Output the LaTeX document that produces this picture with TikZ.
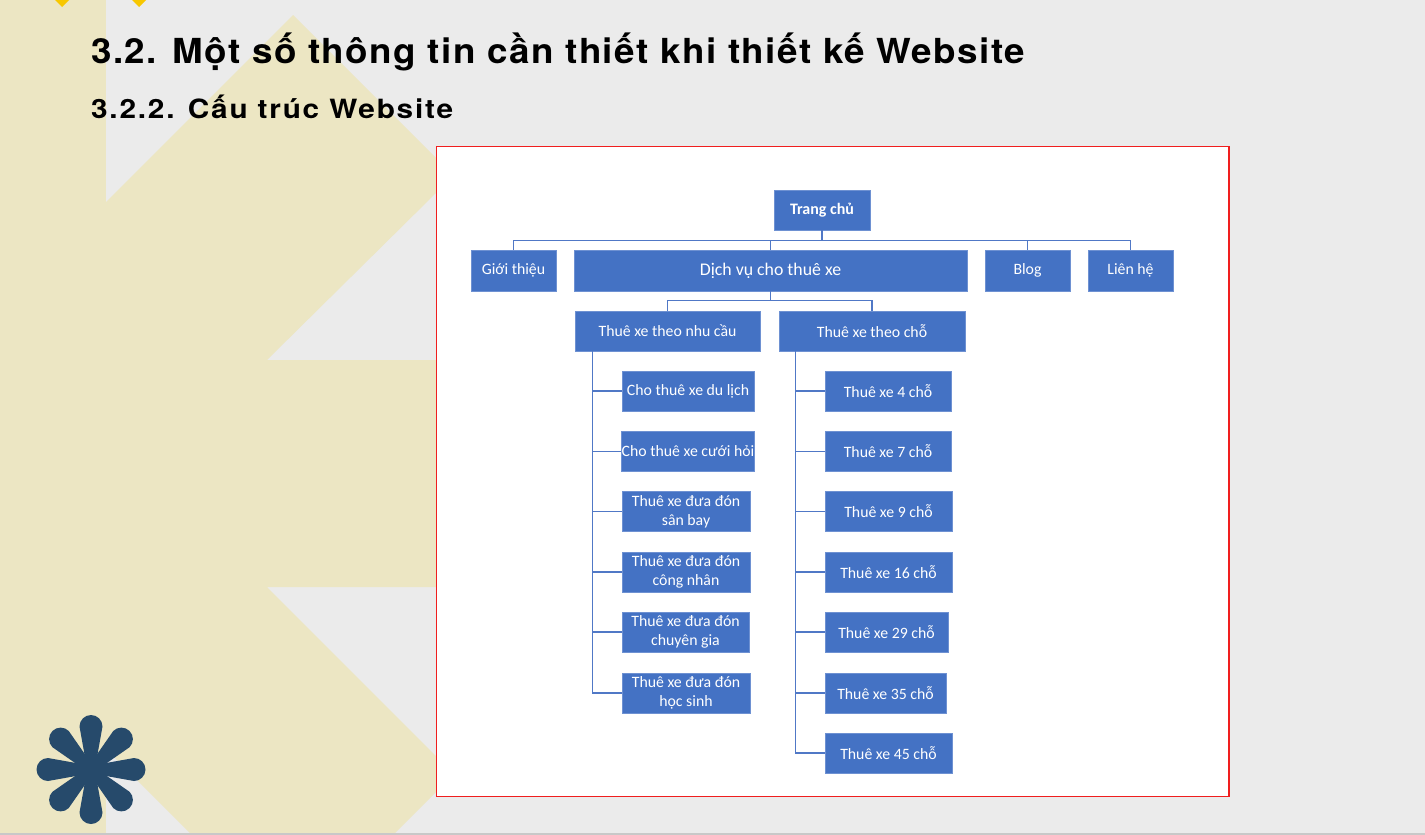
\documentclass[tikz,border=0pt]{standalone}
\usepackage{fontspec}
\setmainfont{Carlito}
\newfontfamily\titlefont[LetterSpace=4,Ligatures=NoCommon]{TeX Gyre Heros}
\newfontfamily\subfont[LetterSpace=6,Ligatures=NoCommon]{TeX Gyre Heros}
\definecolor{bggrey}{RGB}{235,235,235}
\definecolor{beige}{RGB}{236,230,195}
\definecolor{astblue}{RGB}{38,74,107}
\definecolor{gold}{RGB}{247,199,0}
\definecolor{framered}{RGB}{240,30,30}
\definecolor{boxblue}{RGB}{68,114,196}
\definecolor{boxedge}{RGB}{110,145,210}
\definecolor{linkblue}{RGB}{80,120,198}
\newlength\titlew
\newlength\subw
\newcommand\titletext{3.2. Một số thông tin cần thiết khi thiết kế Website}
\newcommand\subtext{3.2.2. Cấu trúc Website}
\newcommand\titlefnt{\titlefont\bfseries\fontsize{34.5}{40}\selectfont}
\newcommand\subfnt{\subfont\bfseries\fontsize{26.5}{30}\selectfont}
\tikzset{
  blk/.style={draw=boxedge, fill=boxblue, line width=0.8pt, text=white, align=center,
    inner sep=0pt, minimum height=40pt, font=\fontsize{15.8}{19}\selectfont},
  two/.style={font=\fontsize{15.8}{19}\selectfont},
  conn/.style={draw=linkblue, line width=1.3pt},
  petal/.style={fill=astblue}
}
\begin{document}
\settowidth\titlew{\titlefnt\titletext}
\settowidth\subw{\subfnt\subtext}
\pgfmathsetmacro\titlesx{934/\titlew}
\pgfmathsetmacro\subsx{362/\subw}
\begin{tikzpicture}[x=1pt,y=-1pt]
\useasboundingbox (0,0) rectangle (1425,835);
% background
\fill[bggrey] (0,0) rectangle (1425,835);
\fill[beige] (0,0) rectangle (106,835);
\fill[beige] (106,202) -- (293,15) -- (460,182) -- (460,170) -- (436,193) -- (267,360)
  -- (460,360) -- (460,587) -- (267,587) -- (460,780) -- (460,768) -- (393,835)
  -- (192,835) -- (106,749) -- cycle;
\draw[line width=1.5pt, draw={rgb,255:red,200;green,200;blue,200}] (0,834.2) -- (1425,834.2);
% diamonds
\fill[gold] (62,-11) -- (71,-2) -- (62,7) -- (53,-2) -- cycle;
\fill[gold] (139,-11) -- (148,-2) -- (139,7) -- (130,-2) -- cycle;
% asterisk
\begin{scope}[shift={(91,769.5)}]
\foreach \a in {0,45,...,315}{
  \fill[petal, rotate=\a] (0,-3.8) -- (43,-11.5) arc[start angle=-90, end angle=90, radius=11.5] -- (0,3.8) -- cycle;
}
\fill[astblue] (0,0) circle (9);
\end{scope}
% titles
\node[anchor=base west, inner sep=0pt] (title) at (91,63) {\scalebox{\titlesx}[1]{\titlefnt\titletext}};
\node[anchor=base west, inner sep=0pt] (subtitle) at (91,118) {\scalebox{\subsx}[1]{\subfnt\subtext}};
% frame
\draw[framered, fill=white, line width=1.2pt] (436.5,146.5) rectangle (1229,796.5);
% level 0-1
\node[blk, minimum width=96pt, font=\bfseries\fontsize{16}{19}\selectfont] (trang) at (822,210) {Trang chủ};
\node[blk, minimum width=85pt, minimum height=41pt] (gioi) at (513.5,270.5) {Giới thiệu};
\node[blk, minimum width=393pt, minimum height=41pt, font=\fontsize{17.8}{20}\selectfont] (dich) at (770.5,270.5) {Dịch vụ cho thuê xe};
\node[blk, minimum width=85pt, minimum height=41pt] (blog) at (1027.5,270.5) {Blog};
\node[blk, minimum width=85pt, minimum height=41pt] (lien) at (1130.5,270.5) {Liên hệ};
% level 2
\node[blk, minimum width=185pt] (nhucau) at (667.5,331) {Thuê xe theo nhu cầu};
\node[blk, minimum width=186pt] (theocho) at (872,331) {Thuê xe theo chỗ};
% left children
\node[blk, minimum width=132pt] (l1) at (688,391) {Cho thuê xe du lịch};
\node[blk, minimum width=132pt] (l2) at (688,451.5) {Cho thuê xe cưới hỏi};
\node[blk, two, minimum width=128pt] (l3) at (686,511.5) {Thuê xe đưa đón\\sân bay};
\node[blk, two, minimum width=128pt] (l4) at (686,572) {Thuê xe đưa đón\\công nhân};
\node[blk, two, minimum width=127pt] (l5) at (685.5,632) {Thuê xe đưa đón\\chuyên gia};
\node[blk, two, minimum width=128pt] (l6) at (686,693) {Thuê xe đưa đón\\học sinh};
% right children
\node[blk, minimum width=126pt] (r1) at (888,391) {Thuê xe 4 chỗ};
\node[blk, minimum width=126pt] (r2) at (888,451.5) {Thuê xe 7 chỗ};
\node[blk, minimum width=127pt] (r3) at (888.5,511.5) {Thuê xe 9 chỗ};
\node[blk, minimum width=127pt] (r4) at (888.5,572) {Thuê xe 16 chỗ};
\node[blk, minimum width=123pt] (r5) at (886.5,632) {Thuê xe 29 chỗ};
\node[blk, minimum width=121pt] (r6) at (885.5,693) {Thuê xe 35 chỗ};
\node[blk, minimum width=127pt] (r7) at (888.5,753) {Thuê xe 45 chỗ};
% connectors level 1
\draw[conn] (trang.south) -- ++(0,10) coordinate (hb);
\draw[conn] (gioi.north) -- (gioi.north |- hb) -- (lien.north |- hb) -- (lien.north);
\draw[conn] (dich.north) -- (dich.north |- hb);
\draw[conn] (blog.north) -- (blog.north |- hb);
% connectors level 2
\draw[conn] (dich.south) -- ++(0,9) coordinate (hb2);
\draw[conn] (nhucau.north) -- (nhucau.north |- hb2) -- (theocho.north |- hb2) -- (theocho.north);
% left trunk
\coordinate (lt) at ([xshift=18pt]nhucau.south west);
\draw[conn] (lt) |- (l6.west);
\foreach \n in {l1,l2,l3,l4,l5}{ \draw[conn] (lt |- \n.west) -- (\n.west); }
% right trunk
\coordinate (rt) at ([xshift=17pt]theocho.south west);
\draw[conn] (rt) |- (r7.west);
\foreach \n in {r1,r2,r3,r4,r5,r6}{ \draw[conn] (rt |- \n.west) -- (\n.west); }
\end{tikzpicture}
\end{document}
